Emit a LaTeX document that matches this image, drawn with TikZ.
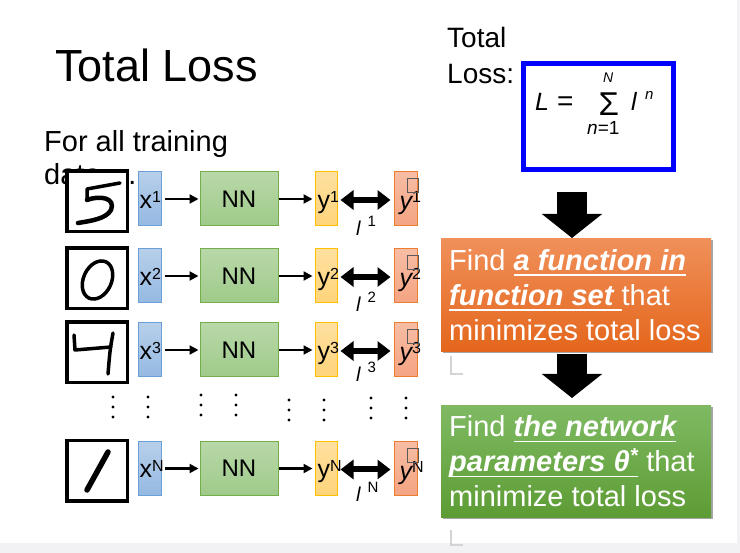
\documentclass[tikz,border=0pt]{standalone}
\usepackage{fontspec}
\setmainfont{Liberation Sans}
\usetikzlibrary{arrows.meta,shadows,calc}

\definecolor{xborder}{HTML}{6A9FD8}
\definecolor{xtop}{HTML}{B7CFEA}
\definecolor{xbot}{HTML}{95B9E2}
\definecolor{nnborder}{HTML}{74AE4A}
\definecolor{nntop}{HTML}{B8D8A8}
\definecolor{nnbot}{HTML}{9FCA8A}
\definecolor{yborder}{HTML}{FFC000}
\definecolor{ytop}{HTML}{FFE0A0}
\definecolor{ybot}{HTML}{FFD47A}
\definecolor{tborder}{HTML}{ED7D31}
\definecolor{ttop}{HTML}{F7BDA4}
\definecolor{tbot}{HTML}{F4A482}
\definecolor{ortop}{HTML}{F0905A}
\definecolor{orbot}{HTML}{E4661C}
\definecolor{grtop}{HTML}{7FBA63}
\definecolor{grbot}{HTML}{5D9C34}
\definecolor{lossblue}{HTML}{0000FF}
\definecolor{strip}{HTML}{F2F2F4}
\definecolor{artifact}{HTML}{D4D4D4}

\newcommand{\fsz}[1]{\fontsize{#1}{#1}\selectfont}
\newsavebox{\ulinebox}
\newcommand{\undl}[1]{\leavevmode\sbox{\ulinebox}{#1}\rlap{\rule[-5.5pt]{\wd\ulinebox}{1.3pt}}\usebox{\ulinebox}}

\tikzset{
  cell/.style={inner sep=0pt, line width=1pt, minimum height=54pt},
  xcell/.style={cell, draw=xborder, top color=xtop, bottom color=xbot, minimum width=23pt},
  nncell/.style={cell, draw=nnborder, top color=nntop, bottom color=nnbot, minimum width=78pt, font=\fsz{24}},
  ycell/.style={cell, draw=yborder, top color=ytop, bottom color=ybot, minimum width=22pt},
  tcell/.style={cell, draw=tborder, top color=ttop, bottom color=tbot, minimum width=23pt},
  digitbox/.style={draw=black, fill=white, line width=3.5pt, minimum width=60.5pt, minimum height=60.5pt, inner sep=0pt},
  pen/.style={line width=4pt, line cap=round, line join=round},
  thinarrow/.style={line width=2.2pt, -{Triangle[length=9pt,width=9pt]}},
  dblarrow/.style={line width=6pt, {Triangle[length=13pt,width=19pt]}-{Triangle[length=13pt,width=19pt]}},
  blockarrow/.style={line width=30pt, -{Triangle[length=24pt,width=59pt]}},
  lbl/.style={anchor=base west, inner sep=0pt},
  textbox/.style={inner xsep=8pt, inner ysep=0pt, minimum width=270pt, text width=254pt,
    align=flush left, text=white, font=\fontsize{29}{35}\selectfont,
    drop shadow={shadow xshift=2pt, shadow yshift=-2pt, fill=black, opacity=0.35}},
  dotcol/.style={fill=black},
}

\begin{document}
\begin{tikzpicture}[x=1pt,y=-1pt]
\useasboundingbox (0,0) rectangle (740,553);
% page frame strips
\fill[strip] (0,543) rectangle (740,553);
\fill[strip] (737,0) rectangle (740,553);

% titles
\node[lbl, font=\fsz{45}] (title) at (55,82) {Total Loss};
\node[lbl, font=\fsz{29}] (forall) at (44,152) {For all training};
\node[lbl, font=\fsz{29}] (data) at (44,185) {data …};

% rows
\foreach \r/\c/\s/\lb in {1/199/1/236, 2/276/2/312, 3/350/3/382, 4/468.5/N/502} {
  \node[digitbox] (d\r) at (97,\c+2.5) {};
  \node[xcell] (x\r) at (149.5,\c) {};
  \node[nncell] (nn\r) at (239,\c) {NN};
  \node[ycell] (y\r) at (326,\c) {};
  \node[tcell] (t\r) at (405.5,\c) {};
  \node[lbl, font=\fsz{25}] (xl\r) at (139.5,\c+9.5) {x\raisebox{6pt}{\fsz{16}\s}};
  \node[lbl, font=\fsz{25}] (yl\r) at (317.5,\c+9.5) {y\raisebox{6pt}{\fsz{16}\s}};
  \node[lbl, font=\fsz{25}\itshape] (tl\r) at (399.5,\c+11) {y\raisebox{7pt}{\fsz{16}\upshape\s}};
  \draw[black!65, line width=1pt] ($(t\r.center)+(1.5,-20)$) rectangle +(11,14);
  \draw[thinarrow, shorten <=3pt, shorten >=1pt] (x\r) -- (nn\r);
  \draw[thinarrow, shorten >=2pt] (nn\r) -- (y\r);
  \draw[dblarrow, shorten <=3pt, shorten >=3pt] ([yshift=-1pt]y\r.east) -- ([yshift=-1pt]t\r.west);
  \node[lbl, font=\fsz{20}\itshape] (ll\r) at (356,\lb) {l\hspace{7pt}\raisebox{9pt}{\fsz{15}\upshape\s}};
}

% handwritten digits
\draw[pen, line width=3.5pt] (120,183) -- (87,189) -- (87,200);
\draw[pen, line width=4.5pt] (87,200) .. controls (100,195) and (116,198) .. (111,210) .. controls (106,219) and (90,221) .. (78,223);
\draw[pen, line width=3.5pt, rotate around={-25:(97.5,280)}] (97.5,280) ellipse (14 and 20);
\draw[pen, line width=3.5pt] (74,335) -- (75,350) -- (111,347);
\draw[pen, line width=3.5pt] (113,333) .. controls (110,350) .. (108,374);
\draw[pen, line width=5.5pt] (108,452) -- (87,490);

% vertical dots
\foreach \xx/\yy in {113/397, 148/397, 201/395, 236/395, 289/400, 324/400, 371/398, 406/398}
  \foreach \k in {0,1,2}
    \fill[dotcol] (\xx,\yy+10*\k) circle (1.7);

% right side
\node[lbl, font=\fsz{28}] (tot1) at (447,48) {Total};
\node[lbl, font=\fsz{28}] (tot2) at (447,84) {Loss:};
\node[draw=lossblue, line width=5pt, minimum width=150pt, minimum height=106pt, inner sep=0pt] (lossbox) at (598.5,116.5) {};
\node[lbl, font=\fsz{25}\itshape] (fL) at (535,111) {L};
\node[lbl, font=\fsz{28}] (feq) at (557,111) {=};
\node[lbl, font=\fsz{33}] (fsum) at (598.5,115.5) {Σ};
\node[lbl, font=\fsz{14}\itshape] (fN) at (603,83) {N};
\node[lbl, font=\fsz{19}] (fn1) at (587,135) {\itshape n\upshape =1};
\node[lbl, font=\fsz{25}\itshape] (fl) at (631,111) {l};
\node[lbl, font=\fsz{15}\itshape] (fn) at (645,100) {n};

\node[textbox, anchor=north west, minimum height=113pt, top color=ortop, bottom color=orbot] (orange) at (441,238)
  {Find {\bfseries\itshape\undl{a function in}}\\
   {\bfseries\itshape\undl{function set }}that\\
   minimizes total loss};
\node[textbox, anchor=north west, minimum height=112pt, top color=grtop, bottom color=grbot] (green) at (441,405)
  {Find {\bfseries\itshape\undl{the network}}\\
   {\bfseries\itshape\undl{parameters θ\textsuperscript{*}}} that\\
   minimize total loss};

\draw[blockarrow] ([yshift=-20pt]lossbox.south -| 572,0) -- (orange.north -| 572,0);
\draw[blockarrow, shorten >=7pt] ([yshift=-3pt]orange.south -| 572,0) -- (green.north -| 572,0);

% text-box corner marks
\draw[artifact, line width=1.5pt] (451,356) -- (451,374) -- (463,374);
\draw[artifact, line width=1.5pt] (451,530) -- (451,545) -- (463,545);
\end{tikzpicture}
\end{document}
